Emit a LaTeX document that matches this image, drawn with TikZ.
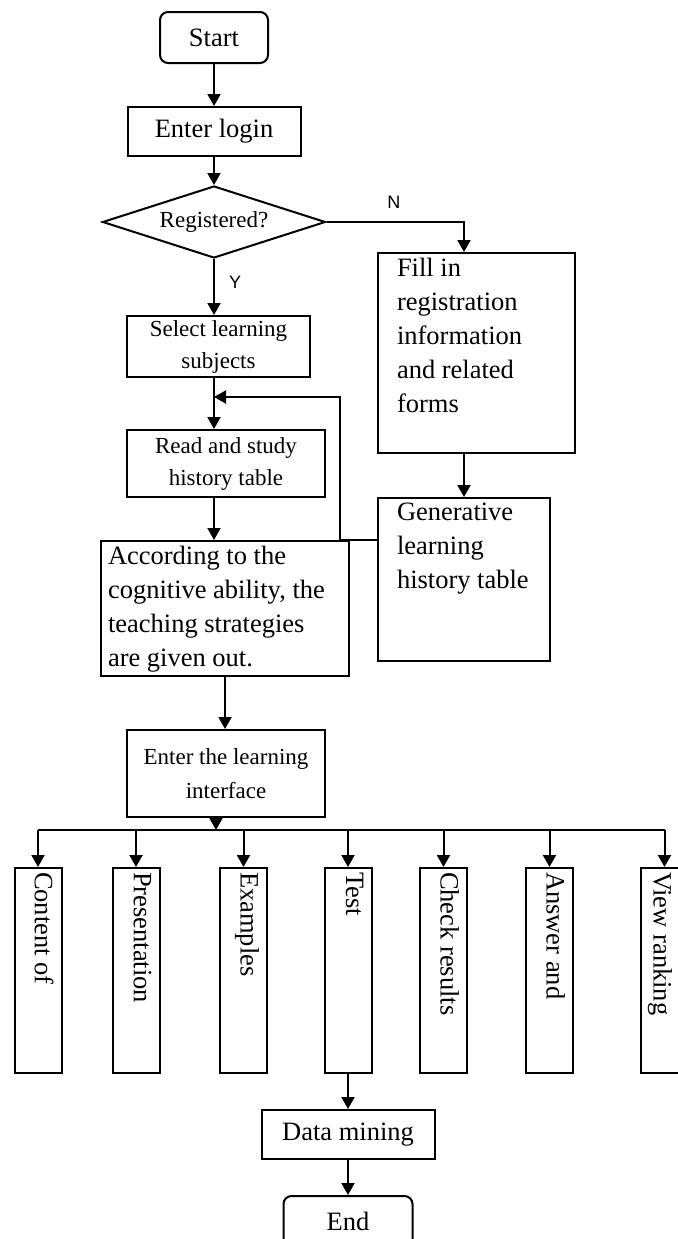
\documentclass[tikz,border=0pt]{standalone}
\usepackage{fontspec}
\setmainfont{Liberation Serif}
\newfontfamily\yesnofont{Liberation Sans}
\usetikzlibrary{positioning,arrows.meta,shapes.geometric}
\tikzset{every picture/.style={line width=1pt, >={Triangle[width=6.5pt,length=6pt]}}}
\tikzset{box/.style={draw, rectangle, align=center, inner sep=0pt, font=\fontsize{11.5}{16}\selectfont}}
\tikzset{bigbox/.style={box, font=\fontsize{13.25}{17}\selectfont}}
\tikzset{endbox/.style={bigbox, rounded corners=4pt}}
\tikzset{leftbox/.style={draw, inner sep=0pt, anchor=north west, font=\fontsize{13.25}{17}\selectfont}}
\tikzset{branch/.style={draw, minimum width=23.5pt, minimum height=102.5pt}}
\tikzset{branchtext/.style={rotate=-90, anchor=north west, inner xsep=2pt, inner ysep=4pt, font=\fontsize{13.25}{17}\selectfont}}
\tikzset{yesno/.style={inner sep=1pt, font=\yesnofont\fontsize{9}{10}\selectfont}}
\newcommand{\lefttext}[4]{\parbox[c][#2][t]{#1}{\raggedright\leftskip=#3\relax\vspace*{2.5pt}#4}}

\begin{document}
\begin{tikzpicture}[x=0.5pt, y=-0.5pt]
\useasboundingbox (0,0) rectangle (678,1239);
\node[endbox, minimum width=54pt, minimum height=25.5pt] (1) at (214,37.5) {Start};
\node[bigbox, minimum width=86.5pt, minimum height=24.5pt] (2) at (214,131.5) {Enter login};
\node[box, diamond, aspect=3, minimum width=111.5pt, minimum height=36pt] (3) at (214,222) {Registered?};
\node[leftbox] (4) at (377,252) {\lefttext{98.5pt}{100pt}{9.5pt}{Fill in\\registration\\information\\and related\\forms}};
\node[box, minimum width=91.5pt, minimum height=30.5pt] (5) at (218.5,346.5) {Select learning\\subjects};
\node[box, minimum width=99pt, minimum height=33.5pt] (6) at (226,463.5) {Read and study\\history table};
\node[leftbox] (7) at (377,497) {\lefttext{86pt}{81.5pt}{9.5pt}{Generative\\learning\\history table}};
\node[leftbox] (8) at (100,540) {\lefttext{124pt}{67.5pt}{3.5pt}{According to the\\cognitive ability, the\\teaching strategies\\are given out.}};
\node[box, minimum width=99pt, minimum height=43.5pt, font=\fontsize{11.5}{17}\selectfont] (9) at (226,773.5) {Enter the learning\\interface};
\coordinate (m) at (214,397);
\coordinate (bus) at (216,830);

% branches
\node[branch] (10) at (38,970.5) {};
\node[branch] (11) at (136,970.5) {};
\node[branch] (12) at (243.5,970.5) {};
\node[branch] (13) at (348,970.5) {};
\node[branch] (14) at (443.5,970.5) {};
\node[branch] (15) at (549.5,970.5) {};
\node[branch] (16) at (664.5,970.5) {};
\node[branchtext] (10t) at (10.north east) {Content of};
\node[branchtext] (11t) at (11.north east) {Presentation};
\node[branchtext] (12t) at (12.north east) {Examples};
\node[branchtext] (13t) at (13.north east) {Test};
\node[branchtext] (14t) at (14.north east) {Check results};
\node[branchtext] (15t) at (15.north east) {Answer and};
\node[branchtext] (16t) at ([xshift=-4pt]16.north east) {View ranking};

\node[bigbox, minimum width=86.5pt, minimum height=24.5pt] (17) at (348,1134.5) {Data mining};
\node[endbox, minimum width=64.5pt, minimum height=25.5pt] (18) at (348,1221.5) {End};

\draw[->] (1) -- (2);
\draw[->] (2) -- (3);
\draw[->] (3) -| node[yesno, pos=0.245, above=5.5pt] (n) {N} (4.north -| 7);
\draw[->] (3) -- node[yesno, pos=0.41, right=6pt] (y) {Y} (3 |- 5.north);
\draw[->] (5.south -| m) -- (6.north -| m);
\draw[->] (6.south -| m) -- (8.north -| m);
\draw[->] (4.south -| 7) -- (7);
\draw[->] (7.west |- 8.north) -- ([xshift=-5pt]8.north east) |- (m);
\draw[->] (8) -- (8 |- 9.north);
\draw[->] (9.south -| bus) -- (bus);
\draw (10 |- bus) -- (16 |- bus);
\draw[->] (10 |- bus) -- (10);
\draw[->] (11 |- bus) -- (11);
\draw[->] (12 |- bus) -- (12);
\draw[->] (13 |- bus) -- (13);
\draw[->] (14 |- bus) -- (14);
\draw[->] (15 |- bus) -- (15);
\draw[->] (16 |- bus) -- (16);
\draw[->] (13) -- (17);
\draw[->] (17) -- (18);
\end{tikzpicture}
\end{document}
